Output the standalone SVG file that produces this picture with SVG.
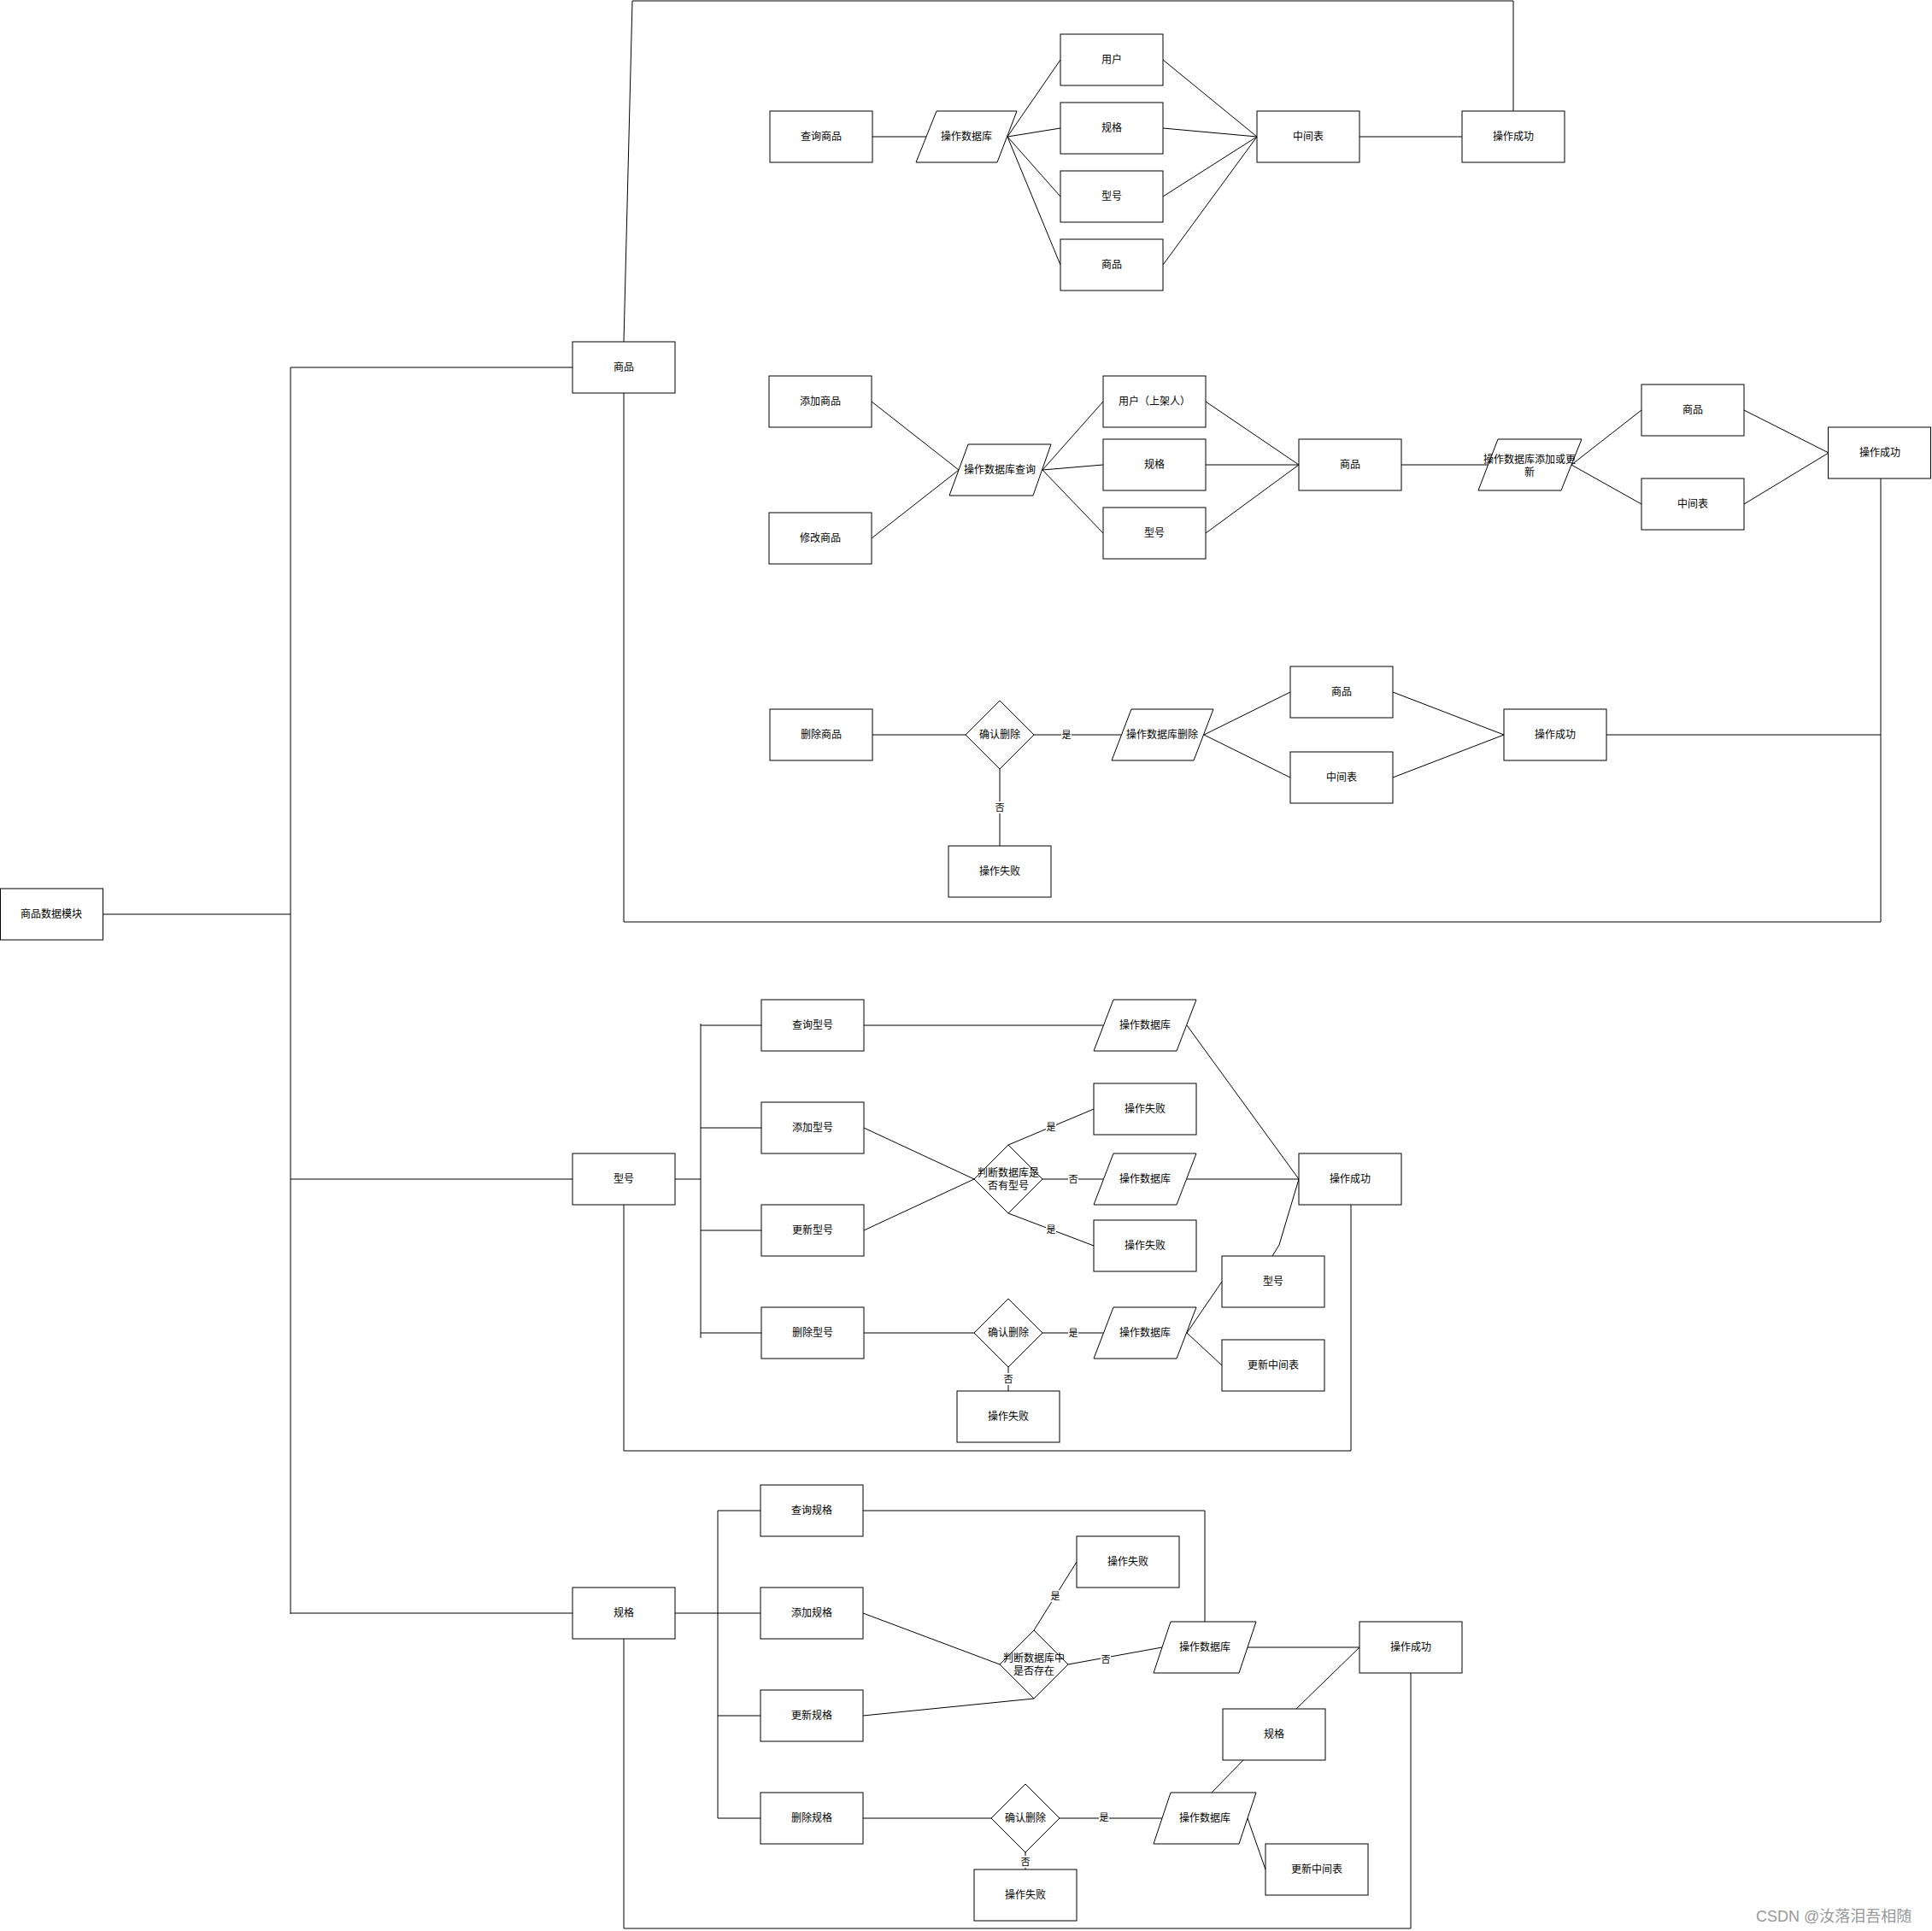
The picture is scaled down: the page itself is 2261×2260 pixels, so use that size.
<svg xmlns="http://www.w3.org/2000/svg" width="2261" height="2260" viewBox="0 0 2261 2260">
<style>
.b{fill:#fff;stroke:#000;stroke-width:1}
.l{fill:none;stroke:#000;stroke-width:1}
.t{font-family:"Liberation Sans","Noto Sans CJK SC",sans-serif;font-size:12px;text-anchor:middle;dominant-baseline:central;fill:#000}
.lb{font-family:"Liberation Sans","Noto Sans CJK SC",sans-serif;font-size:11px;text-anchor:middle;dominant-baseline:central;fill:#000}
.wm{font-family:"Liberation Sans","Noto Sans CJK SC",sans-serif;font-size:18px;fill:#999}
</style>
<rect width="2261" height="2260" fill="#fff"/>
<g id="connectors">
<!-- trunk -->
<path class="l" d="M120,1070H340M340,430V1889M340,430H670M340,1380H670M340,1888H670"/>
<!-- 商品 loop -->
<path class="l" d="M730,400L740,1H1771V130"/>
<path class="l" d="M730,460V1079H2201V560"/>
<path class="l" d="M1880,860H2201"/>
<!-- section A -->
<path class="l" d="M1021,160H1084"/>
<path class="l" d="M1179,160L1241,70M1179,160L1241,150M1179,160L1241,230M1179,160L1241,310"/>
<path class="l" d="M1361,70L1471,160M1361,150L1471,160M1361,230L1471,160M1361,310L1471,160"/>
<path class="l" d="M1591,160H1711"/>
<!-- section B -->
<path class="l" d="M1020,470L1122,550M1020,630L1122,550"/>
<path class="l" d="M1220,550L1291,470M1220,550L1291,544M1220,550L1291,624"/>
<path class="l" d="M1411,470L1520,544M1411,544H1520M1411,624L1520,544"/>
<path class="l" d="M1640,544H1741"/>
<path class="l" d="M1839,544L1921,480M1839,544L1921,590"/>
<path class="l" d="M2041,480L2140,530M2041,590L2140,530"/>
<!-- section C -->
<path class="l" d="M1021,860H1130"/>
<path class="l" d="M1210,860H1312"/>
<path class="l" d="M1170,900V990"/>
<path class="l" d="M1409,860L1510,810M1409,860L1510,910"/>
<path class="l" d="M1630,810L1760,860M1630,910L1760,860"/>
<!-- 型号 group -->
<path class="l" d="M790,1380H820M820,1198V1566M820,1200H891M820,1320H891M820,1440H891M820,1560H891"/>
<path class="l" d="M730,1410V1698H1581V1410"/>
<path class="l" d="M1011,1200H1291"/>
<path class="l" d="M1389,1200L1520,1380"/>
<path class="l" d="M1011,1320L1140,1380M1011,1440L1140,1380"/>
<path class="l" d="M1180,1340L1280,1298"/>
<path class="l" d="M1220,1380H1291"/>
<path class="l" d="M1180,1420L1280,1458"/>
<path class="l" d="M1389,1380H1520"/>
<path class="l" d="M1520,1380L1497,1457L1489,1470"/>
<path class="l" d="M1011,1560H1140"/>
<path class="l" d="M1220,1560H1291"/>
<path class="l" d="M1180,1600V1628"/>
<path class="l" d="M1389,1560L1430,1500M1389,1560L1430,1598"/>
<!-- 规格 group -->
<path class="l" d="M790,1888H890M840,1768V2128M840,1768H890M840,2008H890M840,2128H890"/>
<path class="l" d="M1010,1768H1410V1898"/>
<path class="l" d="M730,1918V2257H1651V1958"/>
<path class="l" d="M1010,1888L1170,1948M1010,2008L1210,1988"/>
<path class="l" d="M1210,1908L1260,1828"/>
<path class="l" d="M1250,1948L1360,1928"/>
<path class="l" d="M1460,1928H1591"/>
<path class="l" d="M1517,2000L1591,1928"/>
<path class="l" d="M1010,2128H1160"/>
<path class="l" d="M1240,2128H1360"/>
<path class="l" d="M1200,2168V2188"/>
<path class="l" d="M1418,2098L1455,2060"/>
<path class="l" d="M1460,2128L1481,2188"/>
<!-- edge labels -->
<g>
<rect x="1242" y="853" width="12" height="14" fill="#fff"/><text class="lb" x="1248" y="860">是</text>
<rect x="1164" y="938" width="12" height="14" fill="#fff"/><text class="lb" x="1170" y="945">否</text>
<rect x="1224" y="1312" width="12" height="14" fill="#fff"/><text class="lb" x="1230" y="1319">是</text>
<rect x="1250" y="1373" width="12" height="14" fill="#fff"/><text class="lb" x="1256" y="1380">否</text>
<rect x="1224" y="1432" width="12" height="14" fill="#fff"/><text class="lb" x="1230" y="1439">是</text>
<rect x="1250" y="1553" width="12" height="14" fill="#fff"/><text class="lb" x="1256" y="1560">是</text>
<rect x="1174" y="1607" width="12" height="14" fill="#fff"/><text class="lb" x="1180" y="1614">否</text>
<rect x="1229" y="1861" width="12" height="14" fill="#fff"/><text class="lb" x="1235" y="1868">是</text>
<rect x="1288" y="1935" width="12" height="14" fill="#fff"/><text class="lb" x="1294" y="1942">否</text>
<rect x="1286" y="2120" width="12" height="14" fill="#fff"/><text class="lb" x="1292" y="2127">是</text>
<rect x="1194" y="2172" width="12" height="14" fill="#fff"/><text class="lb" x="1200" y="2179">否</text>
</g>
</g>
<!-- top level nodes -->
<g id="root"><rect class="b" x="0.5" y="1040" width="120" height="60"/><text class="t" x="60" y="1070">商品数据模块</text></g>
<g id="sp"><rect class="b" x="670" y="400" width="120" height="60"/><text class="t" x="730" y="430">商品</text></g>
<g id="xh"><rect class="b" x="670" y="1350" width="120" height="60"/><text class="t" x="730" y="1380">型号</text></g>
<g id="gg"><rect class="b" x="670" y="1858" width="120" height="60"/><text class="t" x="730" y="1888">规格</text></g>
<!-- section A -->
<g id="a1"><rect class="b" x="901" y="130" width="120" height="60"/><text class="t" x="961" y="160">查询商品</text></g>
<g id="a2"><polygon class="b" points="1096,130 1190,130 1167,190 1072,190"/><text class="t" x="1131" y="160">操作数据库</text></g>
<g id="a3"><rect class="b" x="1241" y="40" width="120" height="60"/><text class="t" x="1301" y="70">用户</text></g>
<g id="a4"><rect class="b" x="1241" y="120" width="120" height="60"/><text class="t" x="1301" y="150">规格</text></g>
<g id="a5"><rect class="b" x="1241" y="200" width="120" height="60"/><text class="t" x="1301" y="230">型号</text></g>
<g id="a6"><rect class="b" x="1241" y="280" width="120" height="60"/><text class="t" x="1301" y="310">商品</text></g>
<g id="a7"><rect class="b" x="1471" y="130" width="120" height="60"/><text class="t" x="1531" y="160">中间表</text></g>
<g id="a8"><rect class="b" x="1711" y="130" width="120" height="60"/><text class="t" x="1771" y="160">操作成功</text></g>
<!-- section B -->
<g id="b1"><rect class="b" x="900" y="440" width="120" height="60"/><text class="t" x="960" y="470">添加商品</text></g>
<g id="b2"><rect class="b" x="900" y="600" width="120" height="60"/><text class="t" x="960" y="630">修改商品</text></g>
<g id="b3"><polygon class="b" points="1133,520 1230,520 1209,580 1111,580"/><text class="t" x="1170" y="550">操作数据库查询</text></g>
<g id="b4"><rect class="b" x="1291" y="440" width="120" height="60"/><text class="t" x="1351" y="470">用户（上架人）</text></g>
<g id="b5"><rect class="b" x="1291" y="514" width="120" height="60"/><text class="t" x="1351" y="544">规格</text></g>
<g id="b6"><rect class="b" x="1291" y="594" width="120" height="60"/><text class="t" x="1351" y="624">型号</text></g>
<g id="b7"><rect class="b" x="1520" y="514" width="120" height="60"/><text class="t" x="1580" y="544">商品</text></g>
<g id="b8"><polygon class="b" points="1753,514 1851,514 1827,574 1730,574"/><text class="t" x="1790" y="538">操作数据库添加或更</text><text class="t" x="1790" y="553">新</text></g>
<g id="b9"><rect class="b" x="1921" y="450" width="120" height="60"/><text class="t" x="1981" y="480">商品</text></g>
<g id="b10"><rect class="b" x="1921" y="560" width="120" height="60"/><text class="t" x="1981" y="590">中间表</text></g>
<g id="b11"><rect class="b" x="2139.5" y="500" width="120" height="60"/><text class="t" x="2200" y="530">操作成功</text></g>
<!-- section C -->
<g id="c1"><rect class="b" x="901" y="830" width="120" height="60"/><text class="t" x="961" y="860">删除商品</text></g>
<g id="c2"><polygon class="b" points="1170,820 1210,860 1170,900 1130,860"/><text class="t" x="1170" y="860">确认删除</text></g>
<g id="c3"><polygon class="b" points="1324,830 1420,830 1397,890 1301,890"/><text class="t" x="1360" y="860">操作数据库删除</text></g>
<g id="c4"><rect class="b" x="1510" y="780" width="120" height="60"/><text class="t" x="1570" y="810">商品</text></g>
<g id="c5"><rect class="b" x="1510" y="880" width="120" height="60"/><text class="t" x="1570" y="910">中间表</text></g>
<g id="c6"><rect class="b" x="1760" y="830" width="120" height="60"/><text class="t" x="1820" y="860">操作成功</text></g>
<g id="c7"><rect class="b" x="1110" y="990" width="120" height="60"/><text class="t" x="1170" y="1020">操作失败</text></g>
<!-- section D -->
<g id="d1"><rect class="b" x="891" y="1170" width="120" height="60"/><text class="t" x="951" y="1200">查询型号</text></g>
<g id="d2"><rect class="b" x="891" y="1290" width="120" height="60"/><text class="t" x="951" y="1320">添加型号</text></g>
<g id="d3"><rect class="b" x="891" y="1410" width="120" height="60"/><text class="t" x="951" y="1440">更新型号</text></g>
<g id="d4"><rect class="b" x="891" y="1530" width="120" height="60"/><text class="t" x="951" y="1560">删除型号</text></g>
<g id="d5"><polygon class="b" points="1303,1170 1400,1170 1377,1230 1280,1230"/><text class="t" x="1340" y="1200">操作数据库</text></g>
<g id="d6"><rect class="b" x="1280" y="1268" width="120" height="60"/><text class="t" x="1340" y="1298">操作失败</text></g>
<g id="d7"><polygon class="b" points="1180,1340 1220,1380 1180,1420 1140,1380"/><text class="t" x="1180" y="1373">判断数据库是</text><text class="t" x="1180" y="1388">否有型号</text></g>
<g id="d8"><polygon class="b" points="1303,1350 1400,1350 1377,1410 1280,1410"/><text class="t" x="1340" y="1380">操作数据库</text></g>
<g id="d9"><rect class="b" x="1280" y="1428" width="120" height="60"/><text class="t" x="1340" y="1458">操作失败</text></g>
<g id="d10"><rect class="b" x="1520" y="1350" width="120" height="60"/><text class="t" x="1580" y="1380">操作成功</text></g>
<g id="d11"><rect class="b" x="1430" y="1470" width="120" height="60"/><text class="t" x="1490" y="1500">型号</text></g>
<g id="d12"><rect class="b" x="1430" y="1568" width="120" height="60"/><text class="t" x="1490" y="1598">更新中间表</text></g>
<g id="d13"><polygon class="b" points="1180,1520 1220,1560 1180,1600 1140,1560"/><text class="t" x="1180" y="1560">确认删除</text></g>
<g id="d14"><polygon class="b" points="1303,1530 1400,1530 1377,1590 1280,1590"/><text class="t" x="1340" y="1560">操作数据库</text></g>
<g id="d15"><rect class="b" x="1120" y="1628" width="120" height="60"/><text class="t" x="1180" y="1658">操作失败</text></g>
<!-- section E -->
<g id="e1"><rect class="b" x="890" y="1738" width="120" height="60"/><text class="t" x="950" y="1768">查询规格</text></g>
<g id="e2"><rect class="b" x="890" y="1858" width="120" height="60"/><text class="t" x="950" y="1888">添加规格</text></g>
<g id="e3"><rect class="b" x="890" y="1978" width="120" height="60"/><text class="t" x="950" y="2008">更新规格</text></g>
<g id="e4"><rect class="b" x="890" y="2098" width="120" height="60"/><text class="t" x="950" y="2128">删除规格</text></g>
<g id="e5"><rect class="b" x="1260" y="1798" width="120" height="60"/><text class="t" x="1320" y="1828">操作失败</text></g>
<g id="e6"><polygon class="b" points="1210,1908 1250,1948 1210,1988 1170,1948"/><text class="t" x="1210" y="1941">判断数据库中</text><text class="t" x="1210" y="1956">是否存在</text></g>
<g id="e7"><polygon class="b" points="1370,1898 1470,1898 1450,1958 1350,1958"/><text class="t" x="1410" y="1928">操作数据库</text></g>
<g id="e8"><rect class="b" x="1591" y="1898" width="120" height="60"/><text class="t" x="1651" y="1928">操作成功</text></g>
<g id="e9"><rect class="b" x="1431" y="2000" width="120" height="60"/><text class="t" x="1491" y="2030">规格</text></g>
<g id="e10"><polygon class="b" points="1200,2088 1240,2128 1200,2168 1160,2128"/><text class="t" x="1200" y="2128">确认删除</text></g>
<g id="e11"><polygon class="b" points="1370,2098 1470,2098 1450,2158 1350,2158"/><text class="t" x="1410" y="2128">操作数据库</text></g>
<g id="e12"><rect class="b" x="1481" y="2158" width="120" height="60"/><text class="t" x="1541" y="2188">更新中间表</text></g>
<g id="e13"><rect class="b" x="1140" y="2188" width="120" height="60"/><text class="t" x="1200" y="2218">操作失败</text></g>
<text class="wm" x="2055" y="2249">CSDN @汝落泪吾相随</text>
</svg>
